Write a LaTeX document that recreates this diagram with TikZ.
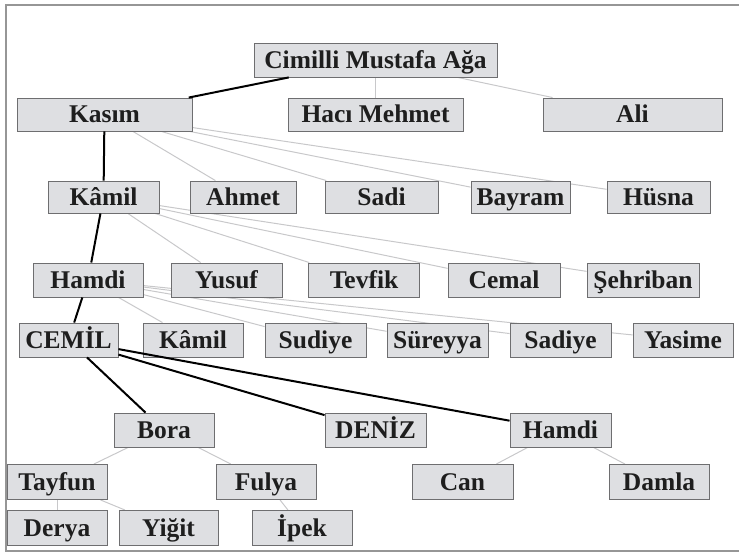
\documentclass[tikz,border=0pt]{standalone}
\usepackage{fontspec}
\setmainfont{Liberation Serif}
\usetikzlibrary{backgrounds}
\definecolor{boxfill}{RGB}{222,223,226}
\definecolor{boxline}{RGB}{110,110,112}
\definecolor{thinline}{RGB}{200,200,202}
\definecolor{txt}{RGB}{30,30,30}
\definecolor{frame}{RGB}{150,150,150}
\tikzset{
  person/.style={draw=boxline, fill=boxfill, line width=0.9pt, inner sep=0pt,
    text=txt, font=\fontsize{25.5}{27}\selectfont\bfseries, anchor=center,
    text height=19pt, text depth=2pt},
  mainline/.style={draw=black, line width=2pt},
  sideline/.style={draw=thinline, line width=1pt},
}
\begin{document}
\begin{tikzpicture}[x=1pt,y=-1pt]
\useasboundingbox (0,0) rectangle (739,556);
\draw[frame, line width=1.8pt] (739,5) -- (6,5) -- (6,551) -- (739,551);
% row 1
\node[person, minimum width=243pt, minimum height=34pt] (cimilli) at (375.5,60) {Cimilli Mustafa Ağa};
% row 2
\node[person, minimum width=175pt, minimum height=33pt] (kasim) at (104.5,114.5) {Kasım};
\node[person, minimum width=175pt, minimum height=33pt] (haci) at (375.5,114.5) {Hacı Mehmet};
\node[person, minimum width=179pt, minimum height=33pt] (ali) at (632.5,114.5) {Ali};
% row 3
\node[person, minimum width=111pt, minimum height=32pt] (kamil) at (103.5,197) {Kâmil};
\node[person, minimum width=106pt, minimum height=32pt] (ahmet) at (243,197) {Ahmet};
\node[person, minimum width=113pt, minimum height=32pt] (sadi) at (381.5,197) {Sadi};
\node[person, minimum width=99pt, minimum height=32pt] (bayram) at (520.5,197) {Bayram};
\node[person, minimum width=103pt, minimum height=32pt] (husna) at (658.5,197) {Hüsna};
% row 4
\node[person, minimum width=110pt, minimum height=34pt] (hamdi) at (88,280) {Hamdi};
\node[person, minimum width=111pt, minimum height=34pt] (yusuf) at (226.5,280) {Yusuf};
\node[person, minimum width=111pt, minimum height=34pt] (tevfik) at (364,280) {Tevfik};
\node[person, minimum width=112pt, minimum height=34pt] (cemal) at (504,280) {Cemal};
\node[person, minimum width=112pt, minimum height=34pt] (sehriban) at (643,280) {Şehriban};
% row 5
\node[person, minimum width=99pt, minimum height=34pt] (cemil) at (68.5,340) {CEMİL};
\node[person, minimum width=100pt, minimum height=34pt] (kamilb) at (193,340) {Kâmil};
\node[person, minimum width=101pt, minimum height=34pt] (sudiye) at (315.5,340) {Sudiye};
\node[person, minimum width=101pt, minimum height=34pt] (sureyya) at (437.5,340) {Süreyya};
\node[person, minimum width=101pt, minimum height=34pt] (sadiye) at (560.5,340) {Sadiye};
\node[person, minimum width=100pt, minimum height=34pt] (yasime) at (683,340) {Yasime};
% row 6
\node[person, minimum width=100pt, minimum height=34pt] (bora) at (164,430) {Bora};
\node[person, minimum width=101pt, minimum height=34pt] (deniz) at (375.5,430) {DENİZ};
\node[person, minimum width=101pt, minimum height=34pt] (hamdib) at (560.5,430) {Hamdi};
% row 7
\node[person, minimum width=100pt, minimum height=35pt] (tayfun) at (57,482) {Tayfun};
\node[person, minimum width=100pt, minimum height=35pt] (fulya) at (266,482) {Fulya};
\node[person, minimum width=101pt, minimum height=35pt] (can) at (462.5,482) {Can};
\node[person, minimum width=100pt, minimum height=35pt] (damla) at (659,482) {Damla};
% row 8
\node[person, minimum width=100pt, minimum height=35pt] (derya) at (57,528) {Derya};
\node[person, minimum width=99pt, minimum height=35pt] (yigit) at (168.5,528) {Yiğit};
\node[person, minimum width=100pt, minimum height=35pt] (ipek) at (302,528) {İpek};
\begin{scope}[on background layer]
  \draw[sideline] (cimilli) -- (haci);
  \draw[sideline] (cimilli) -- (ali);
  \draw[sideline] (kasim) -- (ahmet);
  \draw[sideline] (kasim) -- (sadi);
  \draw[sideline] (kasim) -- (bayram);
  \draw[sideline] (kasim) -- (husna);
  \draw[sideline] (kamil) -- (yusuf);
  \draw[sideline] (kamil) -- (tevfik);
  \draw[sideline] (kamil) -- (cemal);
  \draw[sideline] (kamil) -- (sehriban);
  \draw[sideline] (hamdi) -- (kamilb);
  \draw[sideline] (hamdi) -- (sudiye);
  \draw[sideline] (hamdi) -- (sureyya);
  \draw[sideline] (hamdi) -- (sadiye);
  \draw[sideline] (hamdi) -- (yasime);
  \draw[sideline] (bora) -- (tayfun);
  \draw[sideline] (bora) -- (fulya);
  \draw[sideline] (hamdib) -- (can);
  \draw[sideline] (hamdib) -- (damla);
  \draw[sideline] (tayfun) -- (derya);
  \draw[sideline] (tayfun) -- (yigit);
  \draw[sideline] (fulya) -- (ipek);
\end{scope}
\draw[mainline] (cimilli) -- (kasim);
\draw[mainline] (kasim) -- (kamil);
\draw[mainline] (kamil) -- (hamdi);
\draw[mainline] (hamdi) -- (cemil);
\draw[mainline] (cemil) -- (bora);
\draw[mainline] (cemil) -- (deniz);
\draw[mainline] (cemil) -- (hamdib);
\end{tikzpicture}
\end{document}
